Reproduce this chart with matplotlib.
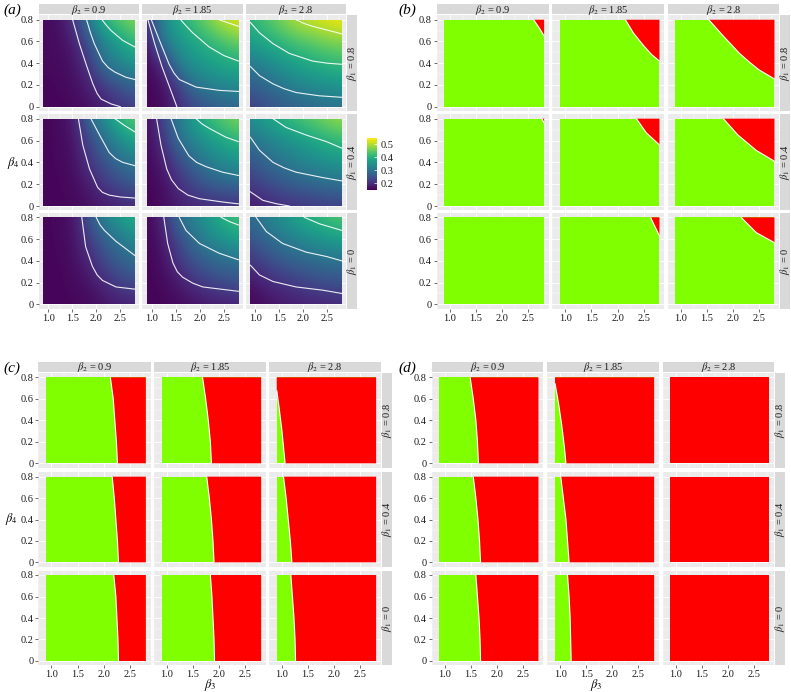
" four faceted grids: a heat map with contours and three green/red regions "
import numpy as np
import matplotlib.pyplot as plt
from matplotlib.patches import Polygon, Rectangle
from matplotlib.colors import Normalize

plt.rcParams.update({'font.family': ['Liberation Serif', 'DejaVu Serif'],
                     'mathtext.fontset': 'stix', 'font.size': 7.5})

W, H = 791, 692
GREEN, RED = "#7FFF00", "#FF0000"

BETA1 = ["0.8", "0.4", "0"]
BETA2 = ["0.9", "1.85", "2.8"]
X_TICKS = [1.0, 1.5, 2.0, 2.5]
Y_TICKS = [0, 0.2, 0.4, 0.6, 0.8]
Y_TICK_LABELS = ["0", "0.2", "0.4", "0.6", "0.8"]

# heat values; rows run y = 0 .. 0.8, columns x = 0.9 .. 2.8
X_GRID = [0.9, 1.22, 1.53, 1.85, 2.17, 2.48, 2.8]
Y_GRID = [0.0, 0.2, 0.4, 0.6, 0.8]
HEAT_R1C1 = [[.155, .155, .158, .165, .18, .20, .22],
             [.155, .158, .165, .185, .22, .255, .28],
             [.16, .16, .17, .21, .30, .33, .355],
             [.16, .163, .18, .25, .33, .37, .42],
             [.16, .165, .21, .315, .41, .45, .47]]
HEAT_R1C2 = [[.155, .16, .195, .23, .25, .265, .275],
             [.155, .165, .215, .295, .32, .335, .345],
             [.16, .19, .32, .35, .37, .385, .395],
             [.17, .31, .35, .38, .405, .43, .455],
             [.195, .33, .39, .43, .47, .51, .53]]
HEAT_R1C3 = [[.22, .24, .255, .27, .28, .29, .295],
             [.265, .285, .305, .325, .34, .35, .36],
             [.31, .33, .355, .375, .39, .405, .415],
             [.37, .39, .41, .43, .445, .46, .47],
             [.405, .435, .465, .50, .515, .53, .54]]
HEAT_R2C1 = [[.155, .155, .158, .165, .175, .185, .195],
             [.155, .157, .162, .18, .215, .24, .26],
             [.155, .158, .165, .21, .25, .29, .31],
             [.155, .16, .17, .23, .29, .34, .38],
             [.155, .16, .18, .285, .35, .415, .45]]
HEAT_R2C2 = [[.155, .16, .175, .19, .195, .197, .199],
             [.155, .165, .20, .235, .26, .275, .285],
             [.155, .18, .23, .28, .315, .34, .355],
             [.16, .20, .29, .33, .36, .385, .41],
             [.16, .23, .31, .37, .42, .45, .47]]
HEAT_R2C3 = [[.175, .19, .197, .205, .212, .218, .222],
             [.215, .235, .255, .27, .28, .29, .295],
             [.25, .28, .30, .32, .335, .35, .36],
             [.295, .32, .34, .36, .38, .40, .415],
             [.35, .375, .405, .43, .45, .47, .49]]
HEAT_R3C1 = [[.155, .155, .157, .16, .17, .18, .185],
             [.155, .156, .16, .17, .195, .225, .24],
             [.155, .157, .165, .19, .24, .27, .29],
             [.155, .158, .168, .22, .27, .305, .34],
             [.155, .16, .17, .25, .33, .37, .40]]
HEAT_R3C2 = [[.155, .156, .16, .165, .175, .18, .185],
             [.155, .16, .175, .205, .225, .24, .25],
             [.155, .165, .21, .25, .275, .29, .30],
             [.155, .175, .235, .29, .33, .355, .375],
             [.155, .19, .29, .33, .365, .405, .43]]
HEAT_R3C3 = [[.155, .165, .175, .18, .185, .19, .195],
             [.17, .19, .205, .22, .235, .245, .25],
             [.21, .235, .26, .275, .285, .295, .30],
             [.25, .28, .305, .325, .345, .36, .375],
             [.29, .32, .35, .38, .405, .425, .44]]

# contour lines of panel (a), (x, y) points
CONT_R1C1 = [[(1.51, .8), (1.65, .58), (1.79, .39), (1.93, .21), (2.02, .12), (2.10, .07), (2.31, .025), (2.50, 0)],
             [(1.80, .8), (1.88, .68), (1.96, .58), (2.13, .42), (2.25, .36), (2.38, .32), (2.62, .27), (2.8, .25)],
             [(2.12, .8), (2.21, .75), (2.31, .70), (2.55, .61), (2.8, .55)]]
CONT_R1C2 = [[(0.92, .8), (1.06, .58), (1.21, .37), (1.37, .18), (1.52, 0)],
             [(0.99, .8), (1.16, .61), (1.36, .39), (1.46, .31), (1.57, .25), (1.92, .18), (2.40, .15), (2.8, .14)],
             [(1.60, .8), (1.72, .74), (1.85, .68), (2.19, .55), (2.5, .47), (2.8, .42)],
             [(2.40, .8), (2.6, .77), (2.8, .74)]]
CONT_R1C3 = [[(0.9, .37), (1.09, .285), (1.37, .21), (1.6, .165), (1.85, .13), (2.33, .10), (2.8, .086)],
             [(0.9, .775), (1.09, .68), (1.37, .58), (1.71, .49), (2.19, .42), (2.5, .40), (2.8, .39)],
             [(1.85, .8), (2.02, .765), (2.19, .74), (2.54, .70), (2.8, .67)]]
CONT_R2C1 = [[(1.63, .8), (1.72, .56), (1.86, .34), (2.03, .17), (2.13, .125), (2.27, .10), (2.5, .083), (2.8, .073)],
             [(1.89, .8), (2.07, .65), (2.27, .49), (2.4, .435), (2.55, .40), (2.8, .37)],
             [(2.39, .8), (2.58, .74), (2.8, .68)]]
CONT_R2C2 = [[(1.10, .8), (1.19, .56), (1.31, .34), (1.41, .24), (1.55, .16), (1.75, .10), (1.99, .067), (2.47, .037), (2.8, .02)],
             [(1.40, .8), (1.55, .62), (1.77, .46), (1.93, .40), (2.13, .36), (2.47, .31), (2.8, .28)],
             [(1.92, .8), (2.05, .75), (2.2, .71), (2.54, .63), (2.8, .59)]]
CONT_R2C3 = [[(0.9, .13), (1.16, .052), (1.45, .02), (1.71, 0)],
             [(0.9, .63), (1.09, .51), (1.37, .40), (1.6, .35), (1.85, .31), (2.41, .26), (2.8, .23)],
             [(1.37, .8), (1.64, .72), (2.06, .65), (2.48, .59), (2.8, .53)]]
CONT_R3C1 = [[(1.70, .8), (1.78, .53), (1.92, .35), (2.02, .27), (2.13, .22), (2.41, .16), (2.8, .14)],
             [(2.0, .8), (2.08, .73), (2.17, .68), (2.41, .58), (2.8, .45)]]
CONT_R3C2 = [[(1.25, .8), (1.33, .56), (1.44, .38), (1.53, .30), (1.64, .25), (1.85, .195), (2.06, .16), (2.8, .12)],
             [(1.57, .8), (1.71, .68), (1.99, .56), (2.40, .47), (2.8, .41)],
             [(2.44, .8), (2.62, .76), (2.8, .73)]]
CONT_R3C3 = [[(0.9, .36), (1.09, .27), (1.37, .21), (1.85, .16), (2.41, .13), (2.8, .10)],
             [(1.02, .8), (1.23, .67), (1.57, .56), (2.06, .48), (2.48, .44), (2.8, .40)],
             [(2.02, .8), (2.34, .74), (2.8, .68)]]

# red/green borders of panels (b), (c), (d); "green"/"red" = whole facet
EDGE_B = [[[(2.60, .8), (2.70, .73), (2.8, .65)],
           [(2.15, .8), (2.30, .68), (2.50, .56), (2.65, .48), (2.8, .42)],
           [(1.54, .8), (1.80, .66), (2.13, .49), (2.32, .41), (2.50, .34), (2.8, .255)]],
          [[(2.76, .8), (2.8, .76)],
           [(2.36, .8), (2.55, .67), (2.8, .56)],
           [(1.82, .8), (2.10, .65), (2.45, .51), (2.8, .41)]],
          ["green",
           [(2.63, .8), (2.72, .71), (2.8, .63)],
           [(2.16, .8), (2.45, .66), (2.8, .567)]]]
EDGE_C = [[[(2.125, .8), (2.18, .6), (2.21, .4), (2.24, .2), (2.26, 0)],
           [(1.68, .8), (1.74, .6), (1.79, .4), (1.83, .2), (1.85, 0)],
           [(0.9, .68), (0.95, .5), (1.0, .3), (1.04, .1), (1.06, 0)]],
          [[(2.16, .8), (2.2, .6), (2.23, .4), (2.26, .2), (2.28, 0)],
           [(1.76, .8), (1.81, .6), (1.85, .4), (1.88, .2), (1.90, 0)],
           [(1.03, .8), (1.08, .6), (1.12, .4), (1.16, .2), (1.19, 0)]],
          [[(2.19, .8), (2.23, .6), (2.25, .4), (2.27, .2), (2.28, 0)],
           [(1.83, .8), (1.86, .6), (1.88, .4), (1.90, .2), (1.91, 0)],
           [(1.17, .8), (1.2, .6), (1.23, .4), (1.25, .2), (1.26, 0)]]]
EDGE_D = [[[(1.49, .8), (1.55, .6), (1.6, .4), (1.63, .2), (1.65, 0)],
           [(0.9, .744), (0.97, .55), (1.03, .35), (1.08, .15), (1.11, 0)],
           "red"],
          [[(1.55, .8), (1.6, .6), (1.64, .4), (1.67, .2), (1.69, 0)],
           [(1.01, .8), (1.06, .6), (1.11, .4), (1.14, .2), (1.17, 0)],
           "red"],
          [[(1.6, .8), (1.63, .6), (1.66, .4), (1.68, .2), (1.69, 0)],
           [(1.14, .8), (1.17, .6), (1.19, .4), (1.2, .2), (1.21, 0)],
           "red"]]

HEAT = [[HEAT_R1C1, HEAT_R1C2, HEAT_R1C3],
        [HEAT_R2C1, HEAT_R2C2, HEAT_R2C3],
        [HEAT_R3C1, HEAT_R3C2, HEAT_R3C3]]
CONT = [[CONT_R1C1, CONT_R1C2, CONT_R1C3],
        [CONT_R2C1, CONT_R2C2, CONT_R2C3],
        [CONT_R3C1, CONT_R3C2, CONT_R3C3]]

# facet positions in pixels: (left, right) per column, (top, bottom) per row
ROWS_TOP = [(15.4, 111.0), (114.3, 210.4), (213.0, 308.7)]
ROWS_BOT = [(373.0, 467.6), (472.4, 566.6), (570.7, 665.3)]
COLS_A = [(38.7, 139.3), (142.4, 243.0), (245.8, 346.4)]
COLS_B = [(436.6, 549.1), (552.2, 664.4), (667.6, 779.4)]
COLS_C = [(38.2, 150.8), (153.9, 266.1), (268.9, 381.1)]
COLS_D = [(431.6, 543.4), (547.2, 659.1), (662.6, 774.4)]


def px_axes(fig, x0, y0, x1, y1):
    return fig.add_axes([x0 / W, 1 - y1 / H, (x1 - x0) / W, (y1 - y0) / H])


def style_facet(ax, r, c):
    ax.set_xlim(0.805, 2.895)
    ax.set_ylim(-0.04, 0.84)
    ax.set_facecolor("#EBEBEB")
    for s in ax.spines.values():
        s.set_visible(False)
    ax.set_xticks(X_TICKS)
    ax.set_yticks(Y_TICKS)
    ax.set_xticks([0.75, 1.25, 1.75, 2.25, 2.75], minor=True)
    ax.set_yticks([0.1, 0.3, 0.5, 0.7], minor=True)
    ax.grid(which="major", color="white", lw=0.6)
    ax.grid(which="minor", color="white", lw=0.3)
    ax.set_axisbelow(True)
    ax.tick_params(which="major", length=2, width=0.5, color="#333333",
                   pad=1.5, labelsize=7.5, labelcolor="#1A1A1A")
    ax.tick_params(which="minor", length=0)
    if c == 0:
        ax.set_yticklabels(Y_TICK_LABELS)
    else:
        ax.tick_params(axis="y", which="major", length=0, labelleft=False)
    if r == 2:
        ax.set_xticklabels(["%.1f" % t for t in X_TICKS])
    else:
        ax.tick_params(axis="x", which="major", length=0, labelbottom=False)


def strips(fig, cols, rows, right_max=None):
    top = rows[0][0]
    for c, (x0, x1) in enumerate(cols):
        s = px_axes(fig, x0, top - 11, x1, top - 1)
        s.set_facecolor("#D9D9D9")
        s.set_xticks([])
        s.set_yticks([])
        for sp in s.spines.values():
            sp.set_visible(False)
        s.text(0.5, 0.45, r"$\beta_2$ = " + BETA2[c], ha="center", va="center",
               transform=s.transAxes, fontsize=7.5, color="#1A1A1A")
    xr = cols[-1][1]
    x1r = xr + 11 if right_max is None else min(xr + 11, right_max)
    for r, (y0, y1) in enumerate(rows):
        s = px_axes(fig, xr + 1, y0, x1r, y1)
        s.set_facecolor("#D9D9D9")
        s.set_xticks([])
        s.set_yticks([])
        for sp in s.spines.values():
            sp.set_visible(False)
        s.text(0.5, 0.5, r"$\beta_1$ = " + BETA1[r], ha="center", va="center",
               rotation=90, transform=s.transAxes, fontsize=7.5, color="#1A1A1A")


def binary_panel(fig, cols, rows, edges):
    for r, (y0, y1) in enumerate(rows):
        for c, (x0, x1) in enumerate(cols):
            ax = px_axes(fig, x0, y0, x1, y1)
            style_facet(ax, r, c)
            e = edges[r][c]
            base = RED if e == "red" else GREEN
            ax.add_patch(Rectangle((0.9, 0), 1.9, 0.8, color=base, lw=0, zorder=2))
            if isinstance(e, str):
                continue
            xs = [p[0] for p in e]
            ys = [p[1] for p in e]
            if xs[-1] >= 2.8:          # border runs from top edge to right edge
                poly = e + [(2.8, 0.8)]
            else:                      # border runs down to the bottom edge
                poly = e + [(2.8, 0), (2.8, 0.8)]
                if ys[0] < 0.8:
                    poly.append((0.9, 0.8))
            ax.add_patch(Polygon(poly, closed=True, color=RED, lw=0, zorder=3))
            ax.plot(xs, ys, color="white", lw=0.8, zorder=4,
                    solid_capstyle="butt", solid_joinstyle="round")
    strips(fig, cols, rows, right_max=W - 0.5)


fig = plt.figure(figsize=(W / 100, H / 100), dpi=100)
fig.patch.set_facecolor("white")

# panel (a)
norm = Normalize(vmin=0.15, vmax=0.545)
dx = X_GRID[1] - X_GRID[0]
dy = Y_GRID[1] - Y_GRID[0]
img = None
for r, (y0, y1) in enumerate(ROWS_TOP):
    for c, (x0, x1) in enumerate(COLS_A):
        ax = px_axes(fig, x0, y0, x1, y1)
        style_facet(ax, r, c)
        img = ax.imshow(np.array(HEAT[r][c]), origin="lower", aspect="auto",
                        extent=(X_GRID[0] - dx / 2, X_GRID[-1] + dx / 2,
                                Y_GRID[0] - dy / 2, Y_GRID[-1] + dy / 2),
                        interpolation="bicubic", cmap="viridis", norm=norm, zorder=2)
        img.set_clip_path(Rectangle((0.9, 0), 1.9, 0.8, transform=ax.transData))
        ax.set_xlim(0.805, 2.895)
        ax.set_ylim(-0.04, 0.84)
        for line in CONT[r][c]:
            ax.plot([p[0] for p in line], [p[1] for p in line], color="white",
                    lw=0.8, alpha=0.9, zorder=3, solid_joinstyle="round")
strips(fig, COLS_A, ROWS_TOP)

cax = px_axes(fig, 366.7, 138.3, 376.7, 190.0)
cb = fig.colorbar(img, cax=cax, ticks=[0.2, 0.3, 0.4, 0.5])
cb.outline.set_visible(False)
cax.tick_params(length=2, width=0.5, color="white", direction="in",
                labelsize=7.5, pad=3, labelcolor="#1A1A1A")

# panels (b), (c), (d)
binary_panel(fig, COLS_B, ROWS_TOP, EDGE_B)
binary_panel(fig, COLS_C, ROWS_BOT, EDGE_C)
binary_panel(fig, COLS_D, ROWS_BOT, EDGE_D)

# panel letters and axis titles
for lab, x, y in [("(a)", 3, 10), ("(b)", 398, 10), ("(c)", 3, 368), ("(d)", 398, 368)]:
    fig.text(x / W, 1 - y / H, lab, fontsize=11, style="italic", ha="left", va="center")
for x, y in [(13, 163), (11, 519)]:
    fig.text(x / W, 1 - y / H, r"$\beta_4$", fontsize=9, ha="center", va="center")
for x, y in [(210, 685), (596, 685)]:
    fig.text(x / W, 1 - y / H, r"$\beta_3$", fontsize=9, ha="center", va="center")

fig.savefig("out.png", dpi=100)
